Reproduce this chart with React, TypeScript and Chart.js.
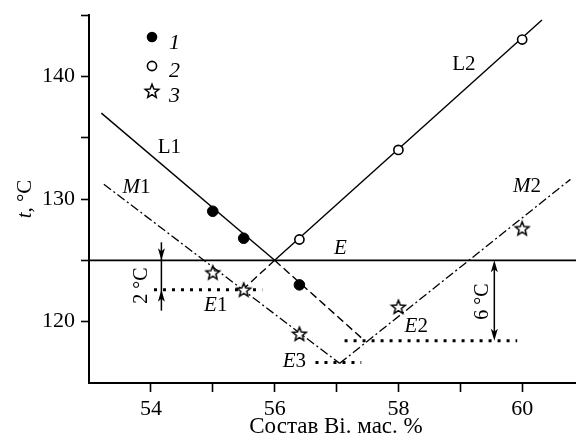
import React, { useEffect, useRef } from 'react';
import { Chart, registerables } from 'chart.js';

Chart.register(...registerables);

// ---- axes ----
const xMin = 53;
const xMax = 60.87;
const yMin = 115;
const yMax = 145;
const xTickValues = [54, 55, 56, 57, 58, 59, 60];
const xTickLabels = [54, 56, 58, 60];
const yTickValues = [120, 125, 130, 135, 140, 145];
const yTickLabels = [120, 130, 140];

// ---- measured points ----
const s1X = [55.0, 55.5, 56.4];
const s1Y = [129.0, 126.8, 123.0];
const s2X = [56.4, 58.0, 60.0];
const s2Y = [126.7, 134.0, 143.0];
const s3X = [55.0, 55.5, 56.4, 58.0, 60.0];
const s3Y = [124.0, 122.6, 119.0, 121.2, 127.6];

// ---- lines ----
const l1X = [53.2, 56.0];
const l1Y = [137.0, 125.0];
const l1ExtX = [56.0, 57.42];
const l1ExtY = [125.0, 118.6];
const l2X = [56.0, 60.32];
const l2Y = [125.0, 144.6];
const l2ExtX = [56.0, 55.47];
const l2ExtY = [125.0, 122.55];
const m1X = [53.24, 57.05];
const m1Y = [131.2, 116.6];
const m2X = [57.05, 60.78];
const m2Y = [116.6, 131.6];
const eX = [53, 60.87];
const eY = [125, 125];
const e1X = [54.05, 55.8];
const e1Y = [122.6, 122.6];
const e2X = [57.13, 59.92];
const e2Y = [118.45, 118.45];
const e3X = [56.66, 57.4];
const e3Y = [116.68, 116.68];

// ---- labels (italic part, upright part, x, y) ----
const labelItalic = ['E', 'E', 'E', 'E', '', '', 'M', 'M'];
const labelUpright = ['', '1', '2', '3', 'L1', 'L2', '1', '2'];
const labelX = [56.96, 54.86, 58.1, 56.13, 54.11, 58.87, 53.54, 59.85];
const labelY = [125.53, 120.9, 119.13, 116.27, 133.74, 140.49, 130.47, 130.56];

// ---- arrows ----
const arrow2X = 54.17;
const arrow2Y = [126.47, 125.0, 122.6, 120.9];
const arrow6X = 59.55;
const arrow6Y = [125.0, 118.45];
const arrowText = ['2 °C', '6 °C'];
const arrowTextX = [53.83, 59.35];
const arrowTextY = [122.94, 121.63];

const legendText = ['1', '2', '3'];

const FONT = '"Liberation Serif", "Times New Roman", serif';

const pts = (xs: number[], ys: number[]) => xs.map((x, i) => ({ x, y: ys[i] }));

function makeStar(): HTMLCanvasElement {
  const c = document.createElement('canvas');
  const s = 18;
  c.width = s;
  c.height = s;
  const g = c.getContext('2d')!;
  g.beginPath();
  for (let i = 0; i < 10; i++) {
    const r = i % 2 === 0 ? 7.2 : 3.2;
    const a = -Math.PI / 2 + (i * Math.PI) / 5;
    const X = s / 2 + r * Math.cos(a);
    const Y = s / 2 + 0.5 + r * Math.sin(a);
    if (i) g.lineTo(X, Y);
    else g.moveTo(X, Y);
  }
  g.closePath();
  g.fillStyle = '#fff';
  g.fill();
  g.lineWidth = 1.5;
  g.strokeStyle = '#000';
  g.lineJoin = 'miter';
  g.stroke();
  return c;
}

function lineDs(xs: number[], ys: number[], dash: number[], width: number, order: number) {
  return {
    type: 'line' as const,
    data: pts(xs, ys),
    borderColor: '#000',
    borderWidth: width,
    borderDash: dash,
    borderCapStyle: 'butt' as const,
    pointRadius: 0,
    showLine: true,
    fill: false,
    tension: 0,
    order,
  };
}

function arrowHead(ctx: CanvasRenderingContext2D, x: number, tipY: number, dir: number) {
  // dir = +1 pointing down, -1 pointing up
  const len = 12;
  const hw = 3.5;
  ctx.beginPath();
  ctx.moveTo(x, tipY);
  ctx.lineTo(x - hw, tipY - dir * len);
  ctx.lineTo(x, tipY - dir * (len - 3));
  ctx.lineTo(x + hw, tipY - dir * len);
  ctx.closePath();
  ctx.fill();
}

export default function App() {
  const ref = useRef<HTMLCanvasElement | null>(null);

  useEffect(() => {
    document.body.style.margin = '0';
    const canvas = ref.current;
    if (!canvas) return;
    const star = makeStar();

    const overlay = {
      id: 'overlay',
      afterDatasetsDraw(chart: any) {
        const ctx: CanvasRenderingContext2D = chart.ctx;
        const xs = chart.scales.x;
        const ys = chart.scales.y;
        const px = (v: number) => xs.getPixelForValue(v);
        const py = (v: number) => ys.getPixelForValue(v);
        ctx.save();
        ctx.fillStyle = '#000';
        ctx.strokeStyle = '#000';

        // arrows
        ctx.lineWidth = 1.5;
        const a2 = px(arrow2X);
        ctx.beginPath();
        ctx.moveTo(a2, py(arrow2Y[0]));
        ctx.lineTo(a2, py(arrow2Y[3]));
        ctx.stroke();
        arrowHead(ctx, a2, py(arrow2Y[1]), 1);
        arrowHead(ctx, a2, py(arrow2Y[2]), -1);

        const a6 = px(arrow6X);
        ctx.beginPath();
        ctx.moveTo(a6, py(arrow6Y[0]) + 4);
        ctx.lineTo(a6, py(arrow6Y[1]) - 4);
        ctx.stroke();
        arrowHead(ctx, a6, py(arrow6Y[0]), -1);
        arrowHead(ctx, a6, py(arrow6Y[1]), 1);

        // rotated arrow texts
        ctx.font = `20px ${FONT}`;
        ctx.textBaseline = 'middle';
        ctx.textAlign = 'center';
        arrowText.forEach((t, i) => {
          ctx.save();
          ctx.translate(px(arrowTextX[i]), py(arrowTextY[i]));
          ctx.rotate(-Math.PI / 2);
          ctx.fillText(t, 0, 1);
          ctx.restore();
        });

        // curve labels
        ctx.textAlign = 'left';
        ctx.textBaseline = 'alphabetic';
        labelItalic.forEach((it, i) => {
          let x = px(labelX[i]);
          const y = py(labelY[i]);
          if (it) {
            ctx.font = `italic 21px ${FONT}`;
            ctx.fillText(it, x, y);
            x += ctx.measureText(it).width;
          }
          ctx.font = `21px ${FONT}`;
          ctx.fillText(labelUpright[i], x, y);
        });

        // legend
        const lx = 152;
        const ly = [37, 66, 91];
        ctx.beginPath();
        ctx.arc(lx, ly[0], 5.3, 0, Math.PI * 2);
        ctx.fill();
        ctx.beginPath();
        ctx.arc(lx, ly[1], 4.6, 0, Math.PI * 2);
        ctx.fillStyle = '#fff';
        ctx.fill();
        ctx.lineWidth = 1.6;
        ctx.stroke();
        ctx.fillStyle = '#000';
        ctx.drawImage(star, lx - star.width / 2, ly[2] - star.height / 2);
        ctx.font = `italic 22px ${FONT}`;
        const lb = [49, 77, 102];
        legendText.forEach((t, i) => ctx.fillText(t, 169, lb[i]));

        // axis titles
        ctx.font = `23px ${FONT}`;
        ctx.textAlign = 'center';
        ctx.fillText('Состав Bi. мас. %', 336, 433);

        ctx.save();
        ctx.translate(25, 199);
        ctx.rotate(-Math.PI / 2);
        ctx.textAlign = 'left';
        ctx.textBaseline = 'middle';
        ctx.font = `italic 21px ${FONT}`;
        const tW = ctx.measureText('t').width;
        ctx.font = `21px ${FONT}`;
        const rest = ', °C';
        const rW = ctx.measureText(rest).width;
        const start = -(tW + rW) / 2;
        ctx.font = `italic 21px ${FONT}`;
        ctx.fillText('t', start, 0);
        ctx.font = `21px ${FONT}`;
        ctx.fillText(rest, start + tW, 0);
        ctx.restore();

        ctx.restore();
      },
    };

    const chart = new Chart(canvas, {
      type: 'scatter',
      data: {
        datasets: [
          {
            data: pts(s1X, s1Y),
            pointRadius: 5.3,
            pointBackgroundColor: '#000',
            pointBorderColor: '#000',
            pointBorderWidth: 1,
            showLine: false,
            order: 0,
          },
          {
            data: pts(s2X, s2Y),
            pointRadius: 4.6,
            pointBackgroundColor: '#fff',
            pointBorderColor: '#000',
            pointBorderWidth: 1.6,
            showLine: false,
            order: 0,
          },
          {
            data: pts(s3X, s3Y),
            pointStyle: star,
            pointRadius: 8,
            showLine: false,
            order: 0,
          },
          lineDs(l1X, l1Y, [], 1.4, 2),
          lineDs(l1ExtX, l1ExtY, [8, 4], 1.4, 2),
          lineDs(l2X, l2Y, [], 1.4, 2),
          lineDs(l2ExtX, l2ExtY, [8, 4], 1.4, 2),
          lineDs(m1X, m1Y, [9, 3, 2, 3], 1.3, 2),
          lineDs(m2X, m2Y, [9, 3, 2, 3], 1.3, 2),
          lineDs(eX, eY, [], 1.6, 2),
          lineDs(e1X, e1Y, [3, 6], 3, 1),
          lineDs(e2X, e2Y, [3, 6], 3, 1),
          lineDs(e3X, e3Y, [3, 6], 3, 1),
        ] as any,
      },
      options: {
        animation: false,
        responsive: false,
        devicePixelRatio: 1,
        layout: { autoPadding: false, padding: { top: 15, right: 0, left: 0, bottom: 0 } },
        plugins: { legend: { display: false }, tooltip: { enabled: false } },
        scales: {
          x: {
            type: 'linear',
            min: xMin,
            max: xMax,
            afterBuildTicks: (scale: any) => {
              scale.ticks = xTickValues.map((v) => ({ value: v }));
            },
            afterFit: (scale: any) => {
              scale.height = 56;
              scale.paddingLeft = 0;
              scale.paddingRight = 0;
            },
            ticks: {
              autoSkip: false,
              maxRotation: 0,
              padding: 4,
              color: '#000',
              font: { family: FONT, size: 22 },
              callback: (v: any) => (xTickLabels.includes(Number(v)) ? String(v) : ''),
            },
            grid: {
              drawOnChartArea: false,
              drawTicks: true,
              tickLength: 9,
              tickWidth: 1.6,
              color: '#000',
            },
            border: { display: true, color: '#000', width: 2 },
          },
          y: {
            type: 'linear',
            min: yMin,
            max: yMax,
            afterBuildTicks: (scale: any) => {
              scale.ticks = yTickValues.map((v) => ({ value: v }));
            },
            afterFit: (scale: any) => {
              scale.width = 89;
              scale.paddingTop = 0;
              scale.paddingBottom = 0;
            },
            ticks: {
              autoSkip: false,
              padding: 6,
              color: '#000',
              font: { family: FONT, size: 22 },
              callback: (v: any) => (yTickLabels.includes(Number(v)) ? String(v) : ''),
            },
            grid: {
              drawOnChartArea: false,
              drawTicks: true,
              tickLength: 8,
              tickWidth: 1.6,
              color: '#000',
            },
            border: { display: true, color: '#000', width: 2 },
          },
        },
      },
      plugins: [overlay],
    } as any);

    return () => chart.destroy();
  }, []);

  return (
    <div style={{ width: 576, height: 439, background: '#fff' }}>
      <canvas ref={ref} width={576} height={439} style={{ display: 'block' }} />
    </div>
  );
}
